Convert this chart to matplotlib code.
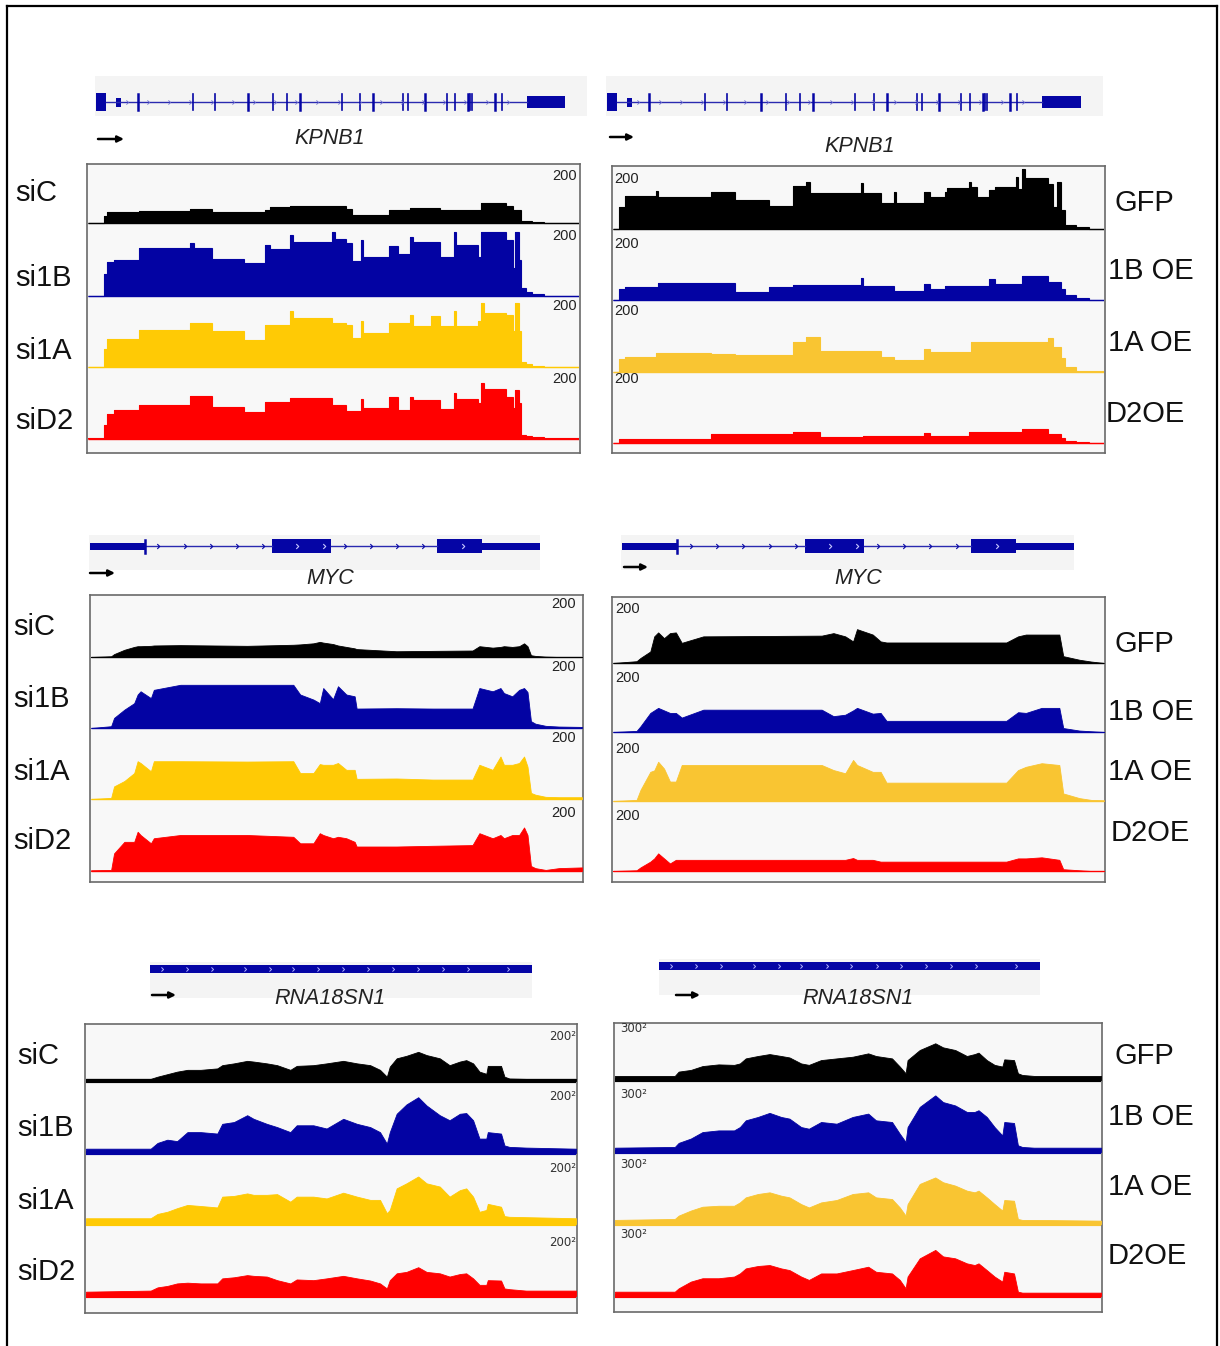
import numpy as np
import matplotlib
matplotlib.use('Agg')
import matplotlib.pyplot as plt
from matplotlib.patches import Rectangle
from matplotlib.path import Path
from matplotlib.lines import Line2D

W, H = 1220, 1346

# ---------------- labels ----------------
left_samples = ['siC', 'si1B', 'si1A', 'siD2']
right_samples = ['GFP', '1B OE', '1A OE', 'D2OE']
gene_names = ['KPNB1', 'MYC', 'RNA18SN1']
scale_left = ['200', '200', '200']
scale_right = ['200', '200', '300']
rna_scale_left = '200\u00b2'
rna_scale_right = '300\u00b2'

# ---------------- KPNB1 (left, si) : step coverage, x in % of track ----------------
kpnb1_L_edges = [0, 3.2, 3.9, 5.3, 10.4, 20.8, 21.5, 25.2, 31.7, 36.1, 37.1, 41.1, 41.8, 49.6, 50.3,
                 52.6, 53.7, 55.7, 56.0, 61.4, 63.1, 65.5, 66.2, 69.9, 71.6, 74.6, 75.0, 79.4, 80.0,
                 80.7, 85.1, 86.5, 86.9, 87.8, 88.2, 89.2, 90.5, 92.9, 100]
kpnb1_L_siC = [0, 20, 30, 30, 32, 39, 39, 31, 31, 35, 44, 46, 46, 46, 46, 40, 23, 23, 23, 35, 35, 42, 42,
               42, 37, 37, 37, 37, 56, 56, 46, 37, 37, 37, 6, 5, 3, 0]
kpnb1_L_si1B = [0, 60, 95, 100, 132, 146, 132, 102, 93, 142, 130, 169, 151, 179, 157, 146, 98, 155, 109,
                139, 116, 163, 151, 151, 109, 179, 142, 109, 179, 179, 155, 77, 179, 100, 21, 12, 6, 0]
kpnb1_L_si1A = [0, 50, 78, 78, 102, 122, 122, 99, 74, 118, 118, 155, 136, 122, 122, 118, 81, 127, 94, 122,
                122, 145, 113, 142, 113, 155, 113, 127, 178, 150, 145, 99, 178, 100, 13, 8, 4, 1]
kpnb1_L_siD2 = [2, 40, 70, 80, 95, 120, 120, 89, 74, 102, 102, 114, 114, 95, 95, 77, 77, 111, 86, 117, 81,
                118, 109, 109, 83, 128, 111, 100, 156, 139, 117, 86, 137, 100, 12, 8, 6, 2]

# ---------------- KPNB1 (right, OE) ----------------
kpnb1_R_edges = [0, 1.2, 2.4, 8.8, 9.2, 20.0, 24.8, 31.7, 36.6, 39.3, 40.1, 42.1, 50.5, 50.9, 54.5, 57.3,
                 57.7, 63.3, 64.5, 67.7, 68.1, 72.5, 72.9, 74.1, 76.5, 77.7, 82.1, 82.5, 83.3, 84.0, 88.5,
                 89.7, 90.5, 91.3, 92.1, 94.2, 97.0, 100]
kpnb1_R_GFP = [0, 60, 92, 106, 90, 102, 81, 64, 119, 131, 101, 101, 127, 101, 71, 104, 71, 104, 88, 104,
               113, 131, 118, 90, 108, 118, 145, 110, 168, 141, 125, 62, 131, 53, 11, 5, 0]
kpnb1_R_1B = [0, 30, 35, 35, 46, 46, 23, 37, 43, 43, 43, 43, 60, 39, 39, 26, 26, 44, 30, 39, 39, 39, 39,
              39, 57, 44, 44, 44, 67, 67, 51, 51, 51, 30, 14, 5, 0]
kpnb1_R_1A = [0, 35, 42, 53, 53, 51, 46, 46, 83, 97, 97, 58, 58, 58, 42, 34, 34, 65, 56, 56, 56, 56, 83,
              83, 83, 83, 83, 83, 83, 83, 95, 69, 69, 40, 14, 4, 3]
kpnb1_R_D2 = [0, 12, 12, 12, 12, 24, 24, 24, 31, 31, 31, 17, 17, 20, 20, 20, 20, 28, 20, 20, 20, 31, 31,
              31, 31, 31, 31, 31, 40, 40, 26, 26, 26, 15, 6, 2, 0]

# ---------------- MYC (left) ----------------
myc_L_x = [0, 4.1, 4.7, 6.8, 8.8, 9.5, 10.1, 12.2, 12.8, 18.2, 31.8, 41.2, 42.6, 45.3, 46.6, 47.3, 49.3,
           50.3, 52.0, 53.7, 54.1, 62.2, 69.6, 77.7, 79.1, 81.8, 83.4, 84.1, 85.8, 87.2, 88.2, 88.9,
           89.6, 90.5, 92.6, 95.3, 100]
myc_L_siC = [0, 2, 8, 20, 28, 30, 30, 31, 32, 33, 31, 34, 35, 38, 42, 40, 36, 32, 28, 24, 22, 16, 17, 18,
             30, 26, 28, 30, 28, 30, 38, 30, 5, 3, 1, 0, 0]
myc_L_si1B = [0, 5, 28, 51, 69, 93, 102, 83, 106, 120, 120, 120, 93, 79, 69, 111, 80, 116, 93, 88, 54, 55,
              54, 54, 111, 102, 111, 97, 88, 106, 111, 100, 19, 12, 6, 4, 3]
myc_L_si1A = [0, 3, 35, 50, 72, 105, 100, 77, 105, 105, 104, 105, 72, 72, 97, 95, 95, 100, 81, 81, 56, 57,
              54, 54, 95, 81, 118, 95, 95, 100, 118, 90, 17, 12, 6, 5, 5]
myc_L_siD2 = [2, 3, 49, 81, 81, 109, 100, 77, 91, 100, 100, 95, 77, 77, 105, 100, 91, 95, 91, 81, 68, 68,
              70, 72, 105, 91, 100, 91, 100, 100, 121, 100, 14, 8, 3, 8, 10]

# ---------------- MYC (right) ----------------
myc_R_x = [0, 4.8, 5.6, 7.6, 8.4, 9.2, 10.4, 11.6, 12.8, 14.0, 18.4, 42.5, 44.9, 47.3, 48.9, 49.7, 52.9,
           54.5, 55.7, 80.1, 82.5, 84.1, 87.3, 90.9, 91.7, 95.0, 97.4, 100]
myc_R_GFP = [0, 5, 14, 32, 74, 85, 69, 83, 85, 56, 74, 76, 83, 74, 60, 94, 79, 60, 57, 57, 74, 79, 79, 79,
             19, 9, 4, 0]
myc_R_1B = [0, 3, 16, 53, 60, 67, 60, 53, 53, 40, 62, 62, 44, 48, 60, 67, 51, 53, 31, 31, 55, 53, 67, 67,
            11, 4, 2, 0]
myc_R_1A = [0, 3, 31, 81, 85, 109, 90, 54, 54, 100, 100, 100, 86, 77, 114, 100, 81, 81, 51, 51, 86, 95,
            105, 100, 21, 8, 3, 2]
myc_R_D2 = [0, 2, 10, 26, 35, 49, 35, 21, 31, 31, 31, 31, 31, 31, 36, 31, 31, 26, 26, 26, 35, 35, 38, 31,
            5, 2, 0, 0]

# ---------------- RNA18SN1 (left) ----------------
rna_L_x = [0, 13.2, 14.6, 16.6, 18.6, 20.7, 23.4, 26.8, 27.8, 30.2, 32.9, 34.2, 36.9, 39.0, 41.7, 43.0,
           46.4, 49.1, 52.5, 55.3, 58.0, 60.0, 61.4, 62.0, 63.4, 65.4, 67.8, 69.5, 72.2, 74.2, 76.3, 77.6,
           79.0, 80.3, 81.7, 82.0, 84.7, 85.4, 86.4, 89.8, 100]
rna_L_siC = [6, 6, 12, 19, 26, 31, 31, 35, 44, 49, 56, 54, 49, 44, 31, 42, 44, 49, 56, 49, 44, 31, 12, 40,
             63, 70, 81, 72, 63, 44, 54, 58, 49, 26, 20, 42, 42, 12, 7, 6, 6]
rna_L_si1B = [12, 12, 28, 37, 33, 58, 58, 54, 81, 86, 105, 95, 81, 72, 58, 77, 77, 68, 95, 81, 72, 58, 26,
              58, 109, 135, 155, 132, 105, 91, 109, 111, 91, 40, 40, 58, 54, 21, 17, 15, 12]
rna_L_si1A = [16, 16, 28, 34, 44, 53, 50, 46, 76, 78, 85, 81, 81, 83, 62, 76, 76, 71, 87, 76, 67, 67, 30,
              39, 99, 113, 132, 113, 104, 76, 94, 99, 76, 34, 39, 56, 48, 22, 20, 19, 16]
rna_L_siD2 = [12, 15, 24, 28, 35, 37, 35, 35, 49, 52, 58, 56, 54, 44, 35, 46, 44, 49, 56, 49, 43, 35, 21,
              44, 63, 67, 80, 67, 63, 54, 61, 63, 49, 31, 31, 44, 43, 21, 19, 15, 15]

# ---------------- RNA18SN1 (right) ----------------
rna_R_x = [0, 12.3, 13.1, 15.6, 18.0, 21.3, 24.5, 25.7, 26.9, 29.4, 31.8, 34.2, 35.9, 38.3, 39.9, 42.4,
           45.6, 48.9, 52.1, 53.7, 57.0, 58.6, 59.8, 60.2, 62.7, 65.9, 67.5, 70.0, 72.4, 74.0, 74.8, 76.5,
           78.1, 79.7, 80.1, 82.1, 82.9, 83.8, 86.2, 100]
rna_R_GFP = [17, 17, 35, 42, 58, 65, 63, 69, 90, 100, 108, 100, 94, 69, 63, 83, 90, 97, 111, 100, 90, 56,
             28, 83, 125, 153, 136, 125, 100, 108, 114, 83, 63, 56, 86, 83, 28, 21, 17, 17]
rna_R_1B = [18, 21, 38, 56, 83, 90, 90, 104, 132, 146, 163, 146, 139, 104, 97, 125, 118, 146, 160, 132,
            125, 76, 42, 104, 188, 236, 208, 194, 167, 167, 174, 146, 104, 69, 125, 121, 28, 21, 18, 18]
rna_R_1A = [17, 21, 35, 56, 72, 76, 76, 90, 111, 125, 132, 118, 111, 83, 69, 90, 100, 125, 132, 111, 104,
            69, 35, 83, 167, 194, 174, 160, 139, 132, 139, 111, 83, 56, 100, 97, 21, 17, 17, 14]
rna_R_D2 = [18, 18, 32, 60, 74, 74, 81, 94, 115, 125, 129, 115, 108, 81, 67, 94, 94, 108, 122, 101, 94,
            67, 32, 81, 157, 192, 165, 157, 136, 129, 136, 108, 81, 60, 101, 94, 18, 14, 14, 14]

# ---------------- gene models (x in % of gene track) ----------------
kpnb1_exons = [8.7, 19.9, 24.4, 31.1, 36.2, 39.0, 41.7, 50.2, 53.9, 56.5, 62.6, 63.6, 67.1, 71.5, 73.2,
               75.8, 76.2, 76.6, 81.3, 82.7]
myc_blocks = [(0.2, 12.2, 'utr'), (40.6, 13.1, 'cds'), (77.2, 9.9, 'cds'), (87.1, 12.9, 'utr')]
myc_introns = [(12.4, 40.6), (53.7, 77.2)]

# ---------------- style ----------------
COL_L = ['#000000', '#0303a3', '#ffca05', '#ff0000']
COL_R = ['#000000', '#0303a3', '#f9c532', '#ff0000']
GENE_C = '#0505a5'
TRACK_BG = '#f8f8f8'
FONT = 'Liberation Sans'

fig = plt.figure(figsize=(W / 100, H / 100), dpi=100)


def ax_px(x0, y0, x1, y1, **kw):
    return fig.add_axes([x0 / W, 1 - y1 / H, (x1 - x0) / W, (y1 - y0) / H], **kw)


def fx(x):
    return x / W


def fy(y):
    return 1 - y / H


def blank(ax):
    ax.set_xticks([])
    ax.set_yticks([])
    for s in ax.spines.values():
        s.set_visible(False)


chev = Path([(-0.5, 1.0), (0.5, 0.0), (-0.5, -1.0)], [Path.MOVETO, Path.LINETO, Path.LINETO])


def coverage_panel(box, baselines, ymax, xs, series, colors, kind, thick=False):
    x0, y0, x1, y1 = box
    bx = ax_px(x0, y0, x1, y1)
    bx.set_facecolor(TRACK_BG)
    bx.set_xticks([])
    bx.set_yticks([])
    for s in bx.spines.values():
        s.set_color('#6a6a6a')
        s.set_linewidth(1.2)
    bx.set_zorder(0)
    for base, vals, c in zip(baselines, series, colors):
        ax = ax_px(x0 + 1, base - 72, x1 - 1, base + 3)
        ax.patch.set_alpha(0)
        blank(ax)
        ax.set_xlim(0, 100)
        ax.set_ylim(-ymax * 3 / 72, ymax)
        if kind == 'step':
            ax.stairs(vals, xs, fill=True, color=c, baseline=0, lw=0)
            ax.stairs(vals, xs, color=c, baseline=0, lw=0.8)
        else:
            ax.fill_between(xs, 0, vals, color=c, lw=0.6, edgecolor=c)
        ax.axhline(0, color=c, lw=3.0 if thick else 1.0, solid_capstyle='butt')
        ax.set_zorder(1)


def gene_axes(box, ylim):
    x0, y0, x1, y1 = box
    ax = ax_px(x0, y0, x1, y1)
    ax.set_facecolor('#f4f4f4')
    blank(ax)
    ax.set_xlim(0, 100)
    ax.set_ylim(*ylim)
    return ax


def draw_kpnb1(ax):
    ax.plot([2.2, 87.8], [0, 0], color='#2a2ab0', lw=1.0)
    ax.add_patch(Rectangle((0.3, -9), 2.0, 18, color=GENE_C, lw=0))
    ax.add_patch(Rectangle((4.3, -4.5), 1.0, 9, color=GENE_C, lw=0))
    for i, e in enumerate(kpnb1_exons):
        ax.plot([e, e], [-8, 8], color=GENE_C, lw=1.8 if i % 3 == 0 else 1.2)
    ax.add_patch(Rectangle((87.8, -6), 7.7, 12, color=GENE_C, lw=0))
    ax.plot(np.arange(6.5, 87, 4.3), np.zeros(len(np.arange(6.5, 87, 4.3))), ls='none',
            marker=chev, ms=3, mew=0.6, mec='#6a6ad0', mfc='none')


def draw_myc(ax):
    for a, b in myc_introns:
        ax.plot([a, b], [0, 0], color='#2a2ab0', lw=1.0)
        xs = np.arange(a + 3, b - 1, 5.8)
        ax.plot(xs, np.zeros(len(xs)), ls='none', marker=chev, ms=3.5, mew=0.8,
                mec=GENE_C, mfc='none')
    for s, w, t in myc_blocks:
        h = 3.5 if t == 'utr' else 7
        ax.add_patch(Rectangle((s, -h), w, 2 * h, color=GENE_C, lw=0))
    ax.plot([12.4, 12.4], [-6.5, 6.5], color=GENE_C, lw=1.8)
    ax.plot([46.1, 52.1, 82.9], [0, 0, 0], ls='none', marker=chev, ms=3.5, mew=0.8, mec='#c8c8ff',
            mfc='none')


def draw_rna(ax):
    ax.add_patch(Rectangle((0, -4), 100, 8, color=GENE_C, lw=0))
    xs = [3.1, 9.7, 16.2, 24.9, 31.4, 37.4, 44.0, 50.5, 57.1, 63.6, 70.2, 76.7, 83.2, 93.7]
    ax.plot(xs, np.zeros(len(xs)), ls='none', marker=chev, ms=3, mew=0.7, mec='#b0b0ff', mfc='none')


def arrow(x0, x1, y):
    fig.add_artist(matplotlib.patches.FancyArrowPatch((fx(x0), fy(y)), (fx(x1), fy(y)),
                                                      transform=fig.transFigure,
                                                      arrowstyle='-|>', mutation_scale=9,
                                                      color='black', lw=1.8, shrinkA=0, shrinkB=0))


def gname(x, y, s):
    fig.text(fx(x), fy(y), s, ha='center', va='center', fontsize=15.5, style='italic',
             family=FONT, color='#222222')


def scale_labels(x, ys, s, ha, rna=False):
    for y in ys:
        if rna:
            fig.text(fx(x), fy(y), s, ha=ha, va='center', fontsize=8.5, family='DejaVu Sans',
                     color='#333333', zorder=5)
        else:
            fig.text(fx(x), fy(y), s, ha=ha, va='center', fontsize=10.5, family=FONT,
                     color='#222222', zorder=5)


def sample_labels(xs, ys, labels):
    for x, y, t in zip(xs, ys, labels):
        fig.text(fx(x), fy(y), t, ha='left', va='center', fontsize=21, family=FONT, color='#111111')


# ---------------- KPNB1 row ----------------
g = gene_axes((95, 76, 587, 116), (-14, 26))
draw_kpnb1(g)
g = gene_axes((606, 76, 1103, 116), (-14, 26))
draw_kpnb1(g)
arrow(98, 124, 139)
arrow(610, 634, 137)
gname(330, 139, gene_names[0])
gname(860, 146, gene_names[0])

coverage_panel((87, 164, 580, 453), [223, 296, 367, 439], 200, kpnb1_L_edges,
               [kpnb1_L_siC, kpnb1_L_si1B, kpnb1_L_si1A, kpnb1_L_siD2], COL_L, 'step')
coverage_panel((612, 166, 1105, 453), [229, 300, 372, 443], 200, kpnb1_R_edges,
               [kpnb1_R_GFP, kpnb1_R_1B, kpnb1_R_1A, kpnb1_R_D2], COL_R, 'step')
scale_labels(577, [176, 236, 306, 379], scale_left[0], 'right')
scale_labels(614, [179, 244, 311, 379], scale_right[0], 'left')
sample_labels([15, 15, 15, 15], [193, 278, 351, 421], left_samples)
sample_labels([1115, 1108, 1108, 1106], [203, 271, 343, 414], right_samples)

# ---------------- MYC row ----------------
g = gene_axes((89, 535, 540, 570), (-24, 11))
draw_myc(g)
g = gene_axes((621, 535, 1074, 570), (-24, 11))
draw_myc(g)
arrow(90, 115, 573)
arrow(624, 648, 567)
gname(330, 579, gene_names[1])
gname(858, 579, gene_names[1])

coverage_panel((90, 595, 583, 882), [657, 728, 799, 871], 200, myc_L_x,
               [myc_L_siC, myc_L_si1B, myc_L_si1A, myc_L_siD2], COL_L, 'line')
coverage_panel((612, 597, 1105, 882), [663, 732, 801, 871], 200, myc_R_x,
               [myc_R_GFP, myc_R_1B, myc_R_1A, myc_R_D2], COL_R, 'line')
scale_labels(576, [604, 667, 738, 813], scale_left[1], 'right')
scale_labels(615, [609, 678, 749, 816], scale_right[1], 'left')
sample_labels([13, 13, 13, 13], [627, 699, 772, 841], left_samples)
sample_labels([1115, 1108, 1108, 1111], [644, 712, 772, 833], right_samples)

# ---------------- RNA18SN1 row ----------------
g = gene_axes((150, 962, 532, 998), (-29, 7))
draw_rna(g)
g = gene_axes((659, 959, 1040, 995), (-29, 7))
draw_rna(g)
arrow(152, 176, 995)
arrow(676, 700, 995)
gname(330, 999, gene_names[2])
gname(858, 999, gene_names[2])

coverage_panel((85, 1024, 577, 1313), [1081, 1153, 1224, 1296], 200, rna_L_x,
               [rna_L_siC, rna_L_si1B, rna_L_si1A, rna_L_siD2], COL_L, 'line', thick=True)
coverage_panel((614, 1023, 1102, 1312), [1080, 1152, 1224, 1296], 300, rna_R_x,
               [rna_R_GFP, rna_R_1B, rna_R_1A, rna_R_D2], COL_R, 'line', thick=True)
scale_labels(576, [1037, 1096, 1168, 1242], rna_scale_left, 'right', rna=True)
scale_labels(620, [1028, 1094, 1164, 1234], rna_scale_right, 'left', rna=True)
sample_labels([17, 17, 17, 17], [1056, 1128, 1201, 1272], left_samples)
sample_labels([1115, 1108, 1108, 1108], [1056, 1117, 1187, 1256], right_samples)

# ---------------- outer frame ----------------
for xs_, ys_ in [([7, 7], [6, 1346]), ([7, 1217], [6, 6]), ([1217, 1217], [6, 1346])]:
    fig.add_artist(Line2D([fx(v) for v in xs_], [fy(v) for v in ys_], color='black', lw=1.6,
                          transform=fig.transFigure))

fig.savefig('out.png', dpi=100, facecolor='white')
